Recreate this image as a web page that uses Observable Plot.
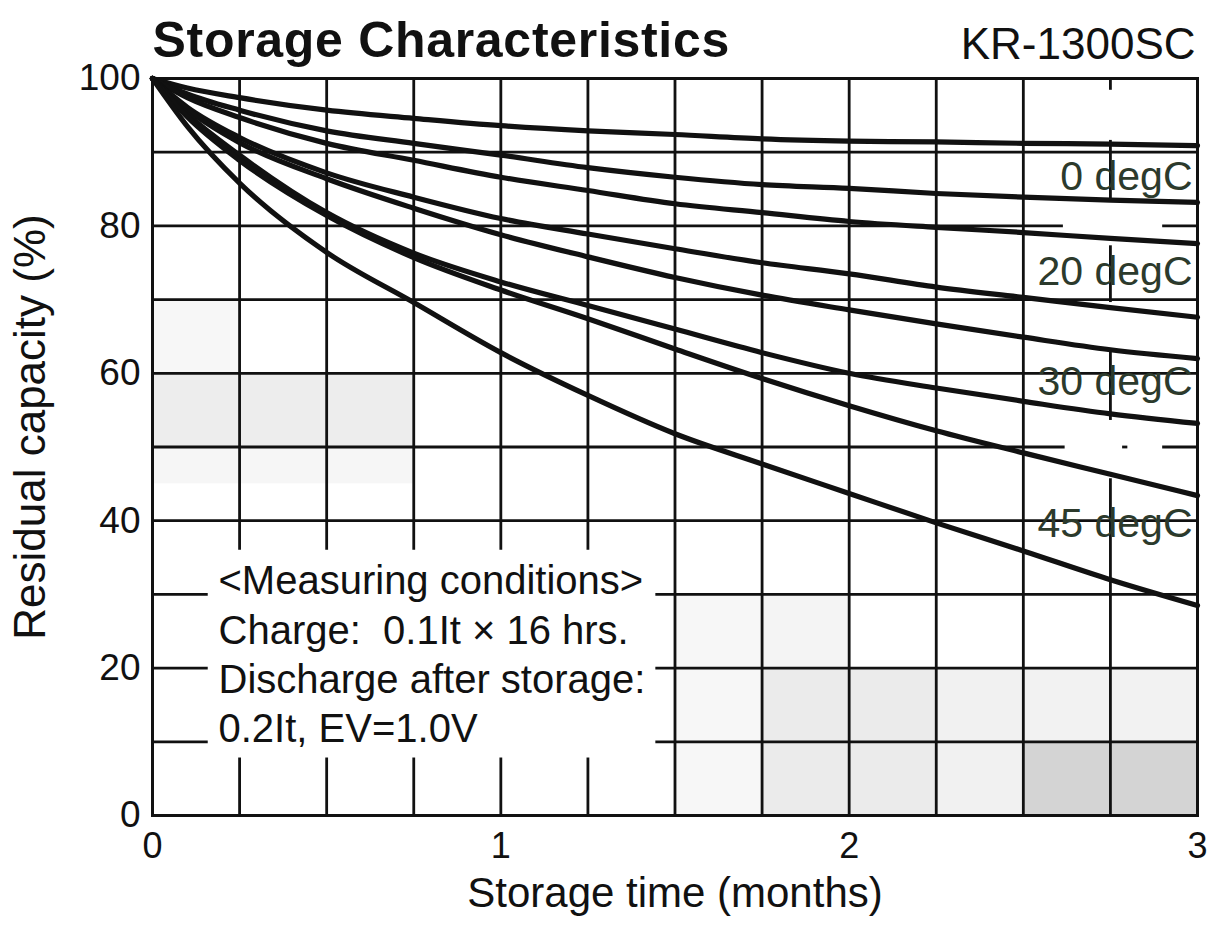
<!DOCTYPE html>
<html><head><meta charset="utf-8">
<script src="https://cdn.jsdelivr.net/npm/d3@7"></script>
<script src="https://cdn.jsdelivr.net/npm/@observablehq/plot@0.6"></script>
<style>
html,body{margin:0;padding:0;background:#fff;}
#chart svg{display:block;}
</style></head><body><div id="chart"></div>
<script>
// ---- data ----
const months = [0, 0.1, 0.25, 0.5, 0.75, 1, 1.25, 1.5, 1.75, 2, 2.25, 2.5, 2.75, 3];
const t0Upper  = [100, 98.7, 97.4, 95.7, 94.6, 93.6, 92.9, 92.4, 91.8, 91.5, 91.4, 91.2, 91.1, 90.9];
const t0Lower  = [100, 97.9, 95.7, 92.9, 91.2, 89.6, 87.9, 86.6, 85.6, 85.1, 84.4, 83.9, 83.5, 83.2];
const t20Upper = [100, 97.4, 94.7, 91.2, 88.9, 86.6, 84.8, 83.0, 81.8, 80.6, 79.8, 79.1, 78.3, 77.6];
const t20Lower = [100, 96.1, 92.0, 87.2, 83.9, 81.0, 78.9, 76.9, 75.0, 73.5, 71.7, 70.3, 68.9, 67.6];
const t30Upper = [100, 95.8, 91.3, 86.4, 82.4, 78.8, 75.8, 73.0, 70.6, 68.6, 66.7, 64.9, 63.2, 62.0];
const t30Lower = [100, 95.2, 89.6, 81.8, 76.3, 72.4, 69.2, 66.0, 62.8, 60.0, 58.0, 56.2, 54.5, 53.2];
const t45Upper = [100, 94.8, 88.9, 81.4, 75.7, 71.3, 67.4, 63.3, 59.3, 55.6, 52.2, 49.2, 46.3, 43.4];
const t45Lower = [100, 93.5, 85.8, 76.4, 69.6, 62.8, 57.0, 51.8, 47.7, 43.7, 39.7, 35.9, 32.0, 28.5];
const seriesNames  = ["0 degC upper","0 degC lower","20 degC upper","20 degC lower","30 degC upper","30 degC lower","45 degC upper","45 degC lower"];
const seriesValues = [t0Upper, t0Lower, t20Upper, t20Lower, t30Upper, t30Lower, t45Upper, t45Lower];

const tempLabels = ["0 degC", "20 degC", "30 degC", "45 degC"];
const tempLabelY = [86.7, 73.7, 58.9, 39.6];

const xTicks = [0, 1, 2, 3];
const yTicks = [0, 20, 40, 60, 80, 100];

const titleText = "Storage Characteristics";
const modelText = "KR-1300SC";
const xLabel = "Storage time (months)";
const yLabel = "Residual capacity (%)";
const conditions = ["<Measuring conditions>", "Charge:  0.1It \u00d7 16 hrs.", "Discharge after storage:", "0.2It, EV=1.0V"];

// grid segments (horizontal: y, x1, x2 ; vertical: x, y1, y2)
const hGridY  = [10, 10, 20, 20, 30, 30, 40, 50, 50, 50, 60, 70, 80, 80, 90];
const hGridX1 = [0, 1.445, 0, 1.445, 0, 1.445, 0, 0, 2.785, 2.9, 0, 0, 0, 2.9, 0];
const hGridX2 = [0.16, 3, 0.16, 3, 0.16, 3, 3, 2.62, 2.8, 3, 3, 3, 2.615, 3, 3];
const vGridX  = [0.25, 0.25, 0.5, 0.5, 0.75, 0.75, 1, 1, 1.25, 1.25, 1.5, 1.75, 2, 2.25, 2.5, 2.75, 2.75, 2.75, 2.75, 2.75];
const vGridY1 = [0, 36, 0, 36, 0, 36, 0, 36, 0, 36, 0, 0, 0, 0, 0, 98.4, 83.4, 69.6, 53.6, 0];
const vGridY2 = [7.8, 100, 7.8, 100, 7.8, 100, 7.8, 100, 7.8, 100, 100, 100, 100, 100, 100, 100, 91.6, 77.3, 63.1, 45.7];

// faint speckled cells of the scanned original
const shadeX1 = [0, 0, 0, 1.5, 1.75, 1.75, 2, 2.25, 2.5, 2.5];
const shadeX2 = [0.75, 0.25, 0.75, 1.75, 2, 2, 2.25, 2.5, 3, 3];
const shadeY1 = [50, 60, 45, 0, 0, 20, 0, 0, 0, 10];
const shadeY2 = [60, 70, 50, 30, 20, 30, 20, 20, 10, 20];
const shadeA  = [0.07, 0.03, 0.035, 0.03, 0.08, 0.045, 0.08, 0.055, 0.17, 0.05];

// ---- tables built from the arrays ----
const curves = seriesNames.flatMap((name, i) => months.map((m, j) => ({series: name, month: m, value: seriesValues[i][j]})));
const hGrid = hGridY.map((y, i) => ({y, x1: hGridX1[i], x2: hGridX2[i]}));
const vGrid = vGridX.map((x, i) => ({x, y1: vGridY1[i], y2: vGridY2[i]}));
const shades = shadeX1.map((x1, i) => ({x1, x2: shadeX2[i], y1: shadeY1[i], y2: shadeY2[i], a: shadeA[i]}));
const tempTable = tempLabels.map((t, i) => ({t, y: tempLabelY[i]}));

const font = "'Liberation Sans', Arial, Helvetica, sans-serif";
const ink = "#111";

const chart = Plot.plot({
  width: 1212,
  height: 928,
  marginLeft: 152,
  marginRight: 15,
  marginTop: 78,
  marginBottom: 113,
  x: {domain: [0, 3], axis: null},
  y: {domain: [0, 100], axis: null},
  style: {fontFamily: font, background: "#fff", color: ink},
  marks: [
    Plot.rect(shades, {x1: "x1", x2: "x2", y1: "y1", y2: "y2", fill: "#000", fillOpacity: d => d.a}),
    Plot.ruleY(hGrid, {y: "y", x1: "x1", x2: "x2", stroke: ink, strokeWidth: 2.8}),
    Plot.ruleX(vGrid, {x: "x", y1: "y1", y2: "y2", stroke: ink, strokeWidth: 2.8}),
    Plot.frame({stroke: ink, strokeWidth: 3}),
    Plot.line(curves, {x: "month", y: "value", z: "series", stroke: ink, strokeWidth: 5.2, curve: "monotone-x", strokeLinecap: "round", strokeLinejoin: "round"}),
    Plot.text(tempTable, {y: "y", text: "t", frameAnchor: "right", textAnchor: "end", dx: -5, fontSize: 41, fill: "#2c3a2c"}),
    Plot.text(xTicks, {x: d => d, text: d => String(d), frameAnchor: "bottom", lineAnchor: "middle", dy: 31, fontSize: 36, fill: ink}),
    Plot.text(yTicks, {y: d => d, text: d => String(d), frameAnchor: "left", textAnchor: "end", lineAnchor: "middle", dx: -12, fontSize: 37, fill: ink}),
    Plot.text([xLabel], {frameAnchor: "bottom", lineAnchor: "middle", dy: 78, fontSize: 42, fill: ink}),
    Plot.text([yLabel], {frameAnchor: "left", textAnchor: "middle", lineAnchor: "middle", dx: -122, dy: -20, rotate: -90, fontSize: 44, fill: ink}),
    Plot.text([titleText], {frameAnchor: "top-left", textAnchor: "start", lineAnchor: "middle", dy: -38, fontSize: 50, fontWeight: "bold", fill: ink, className: "chart-title"}),
    Plot.text([modelText], {frameAnchor: "top-right", textAnchor: "end", lineAnchor: "middle", dx: -2, dy: -34, fontSize: 44, fill: ink}),
    Plot.text([conditions.join("\n")], {frameAnchor: "bottom-left", textAnchor: "start", lineAnchor: "top", dx: 66, dy: -256, fontSize: 40, lineHeight: 1.23, fill: ink})
  ]
});
d3.select(chart).selectAll(".chart-title text").attr("letter-spacing", "0.7px");
document.getElementById("chart").appendChild(chart);
</script>
</body></html>
